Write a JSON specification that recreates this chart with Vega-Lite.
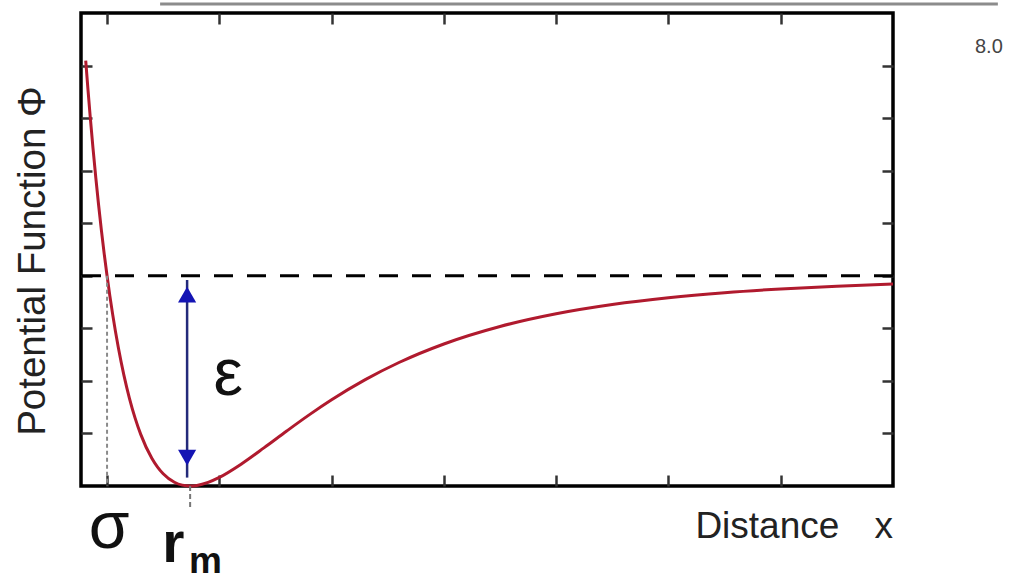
{
  "$schema": "https://vega.github.io/schema/vega-lite/v6.json",
  "width": 812,
  "height": 473,
  "autosize": {"type": "none"},
  "padding": {"left": 81, "top": 13, "right": 129, "bottom": 90},
  "background": "white",
  "config": {
    "view": {"stroke": "#000", "strokeWidth": 3.5},
    "axis": {"labels": false, "domain": false, "grid": false, "title": null, "tickSize": -11, "tickWidth": 2.5, "tickColor": "#333"}
  },
  "datasets": {
    "curve": [
      {"u": -0.19, "V": 1.0238}, {"u": -0.17, "V": 0.8866}, {"u": -0.15, "V": 0.7572},
      {"u": -0.125, "V": 0.6059}, {"u": -0.1, "V": 0.4656}, {"u": -0.075, "V": 0.3355},
      {"u": -0.05, "V": 0.2149}, {"u": -0.025, "V": 0.1033}, {"u": 0, "V": 0},
      {"u": 0.025, "V": -0.0955}, {"u": 0.05, "V": -0.1837}, {"u": 0.1, "V": -0.34},
      {"u": 0.15, "V": -0.4724}, {"u": 0.2, "V": -0.5839}, {"u": 0.25, "V": -0.6772},
      {"u": 0.3, "V": -0.7545}, {"u": 0.4, "V": -0.8694}, {"u": 0.45, "V": -0.9101},
      {"u": 0.5, "V": -0.9418}, {"u": 0.6, "V": -0.9822}, {"u": 0.67, "V": -0.9959},
      {"u": 0.74, "V": -1.0}, {"u": 0.8, "V": -0.9973}, {"u": 0.9, "V": -0.9829},
      {"u": 1.0, "V": -0.9591}, {"u": 1.2, "V": -0.894}, {"u": 1.4, "V": -0.8175},
      {"u": 1.6, "V": -0.7384}, {"u": 1.8, "V": -0.6617}, {"u": 2.0, "V": -0.59},
      {"u": 2.3, "V": -0.4942}, {"u": 2.6, "V": -0.4126}, {"u": 3.0, "V": -0.3244},
      {"u": 3.5, "V": -0.2412}, {"u": 4.0, "V": -0.1808}, {"u": 4.5, "V": -0.1368},
      {"u": 5.0, "V": -0.1045}, {"u": 5.5, "V": -0.0806}, {"u": 6.0, "V": -0.0628},
      {"u": 6.5, "V": -0.0494}, {"u": 7.0, "V": -0.0392}
    ],
    "heads": [
      {"u": 0.713, "V": -0.09, "shape": "triangle-up"},
      {"u": 0.713, "V": -0.865, "shape": "triangle-down"}
    ]
  },
  "resolve": {"axis": {"x": "independent", "y": "independent"}},
  "layer": [
    {
      "data": {"values": [{"V": 0}]},
      "mark": {"type": "rule", "color": "#000", "strokeWidth": 3, "strokeDash": [19, 14]},
      "encoding": {"y": {"field": "V", "type": "quantitative", "axis": null}}
    },
    {
      "data": {"name": "curve"},
      "mark": {"type": "line", "color": "#b01a2e", "strokeWidth": 3, "interpolate": "monotone"},
      "encoding": {
        "x": {"field": "u", "type": "quantitative", "scale": {"domain": [-0.232, 7.0], "zero": false, "nice": false},
              "axis": {"orient": "bottom", "values": [0, 1, 2, 3, 4, 5, 6]}},
        "y": {"field": "V", "type": "quantitative", "scale": {"domain": [-1.0, 1.25], "zero": false, "nice": false},
              "axis": {"orient": "left", "values": [-0.75, -0.5, -0.25, 0, 0.25, 0.5, 0.75, 1.0]}}
      }
    },
    {
      "data": {"values": [{"u": 0, "y1": 0, "y2": -1}]},
      "mark": {"type": "rule", "color": "#8a8a8a", "strokeWidth": 2, "strokeDash": [4, 3]},
      "encoding": {
        "x": {"field": "u", "type": "quantitative", "axis": null},
        "y": {"field": "y1", "type": "quantitative", "axis": null},
        "y2": {"field": "y2"}
      }
    },
    {
      "data": {"values": [{"u": 0.74, "y1": -1.0, "y2": -1.1}]},
      "mark": {"type": "rule", "color": "#777", "strokeWidth": 2, "strokeDash": [5, 3]},
      "encoding": {
        "x": {"field": "u", "type": "quantitative", "axis": null},
        "y": {"field": "y1", "type": "quantitative", "axis": null},
        "y2": {"field": "y2"}
      }
    },
    {
      "data": {"values": [{"u": 0.713, "y1": -0.02, "y2": -0.96}]},
      "mark": {"type": "rule", "color": "#232a7a", "strokeWidth": 2.5},
      "encoding": {
        "x": {"field": "u", "type": "quantitative", "axis": {"orient": "top", "values": [0, 1, 2, 3, 4, 5, 6]}},
        "y": {"field": "y1", "type": "quantitative", "axis": {"orient": "right", "values": [-0.75, -0.5, -0.25, 0, 0.25, 0.5, 0.75, 1.0]}},
        "y2": {"field": "y2"}
      }
    },
    {
      "data": {"name": "heads"},
      "mark": {"type": "point", "filled": true, "color": "#1414b4", "size": 330, "opacity": 1},
      "encoding": {
        "x": {"field": "u", "type": "quantitative", "axis": null},
        "y": {"field": "V", "type": "quantitative", "axis": null},
        "shape": {"field": "shape", "type": "nominal", "scale": null, "legend": null}
      }
    },
    {
      "data": {"values": [{"u": 0.018, "V": -1.295, "text": "σ"}]},
      "mark": {"type": "text", "font": "Liberation Sans", "fontSize": 66, "align": "center", "baseline": "alphabetic", "color": "#111"},
      "encoding": {
        "x": {"field": "u", "type": "quantitative", "axis": null},
        "y": {"field": "V", "type": "quantitative", "axis": null},
        "text": {"field": "text"}
      }
    },
    {
      "data": {"values": [{"u": 0.69, "V": -1.362, "text": "r"}]},
      "mark": {"type": "text", "font": "Liberation Sans", "fontSize": 57, "fontWeight": "bold", "align": "right", "baseline": "alphabetic", "color": "#111"},
      "encoding": {
        "x": {"field": "u", "type": "quantitative", "axis": null},
        "y": {"field": "V", "type": "quantitative", "axis": null},
        "text": {"field": "text"}
      }
    },
    {
      "data": {"values": [{"u": 0.731, "V": -1.415, "text": "m"}]},
      "mark": {"type": "text", "font": "Liberation Sans", "fontSize": 37, "fontWeight": "bold", "align": "left", "baseline": "alphabetic", "color": "#111"},
      "encoding": {
        "x": {"field": "u", "type": "quantitative", "axis": null},
        "y": {"field": "V", "type": "quantitative", "axis": null},
        "text": {"field": "text"}
      }
    },
    {
      "data": {"values": [{"u": 1.079, "V": -0.567, "text": "ε"}]},
      "mark": {"type": "text", "font": "Liberation Sans", "fontSize": 66, "align": "center", "baseline": "alphabetic", "color": "#111"},
      "encoding": {
        "x": {"field": "u", "type": "quantitative", "axis": null},
        "y": {"field": "V", "type": "quantitative", "axis": null},
        "text": {"field": "text"}
      }
    },
    {
      "data": {"values": [{"u": 5.24, "V": -1.248, "text": "Distance"}]},
      "mark": {"type": "text", "font": "Liberation Sans", "fontSize": 37, "align": "left", "baseline": "alphabetic", "color": "#222"},
      "encoding": {
        "x": {"field": "u", "type": "quantitative", "axis": null},
        "y": {"field": "V", "type": "quantitative", "axis": null},
        "text": {"field": "text"}
      }
    },
    {
      "data": {"values": [{"u": 7.0, "V": -1.248, "text": "x"}]},
      "mark": {"type": "text", "font": "Liberation Sans", "fontSize": 37, "align": "right", "baseline": "alphabetic", "color": "#222"},
      "encoding": {
        "x": {"field": "u", "type": "quantitative", "axis": null},
        "y": {"field": "V", "type": "quantitative", "axis": null},
        "text": {"field": "text"}
      }
    },
    {
      "data": {"values": [{"u": -0.553, "V": 0.07, "text": "Potential Function Φ"}]},
      "mark": {"type": "text", "font": "Liberation Sans", "fontSize": 38.5, "angle": 270, "align": "center", "baseline": "alphabetic", "color": "#222"},
      "encoding": {
        "x": {"field": "u", "type": "quantitative", "axis": null},
        "y": {"field": "V", "type": "quantitative", "axis": null},
        "text": {"field": "text"}
      }
    },
    {
      "data": {"values": [{"x1": 0.4725, "x2": 7.934, "V": 1.293}]},
      "mark": {"type": "rule", "color": "#8c8c8c", "strokeWidth": 3},
      "encoding": {
        "x": {"field": "x1", "type": "quantitative", "axis": null},
        "x2": {"field": "x2"},
        "y": {"field": "V", "type": "quantitative", "axis": null}
      }
    },
    {
      "data": {"values": [{"u": 7.854, "V": 1.058, "text": "8.0"}]},
      "mark": {"type": "text", "font": "Liberation Sans", "fontSize": 20, "align": "center", "baseline": "alphabetic", "color": "#444"},
      "encoding": {
        "x": {"field": "u", "type": "quantitative", "axis": null},
        "y": {"field": "V", "type": "quantitative", "axis": null},
        "text": {"field": "text"}
      }
    }
  ]
}
